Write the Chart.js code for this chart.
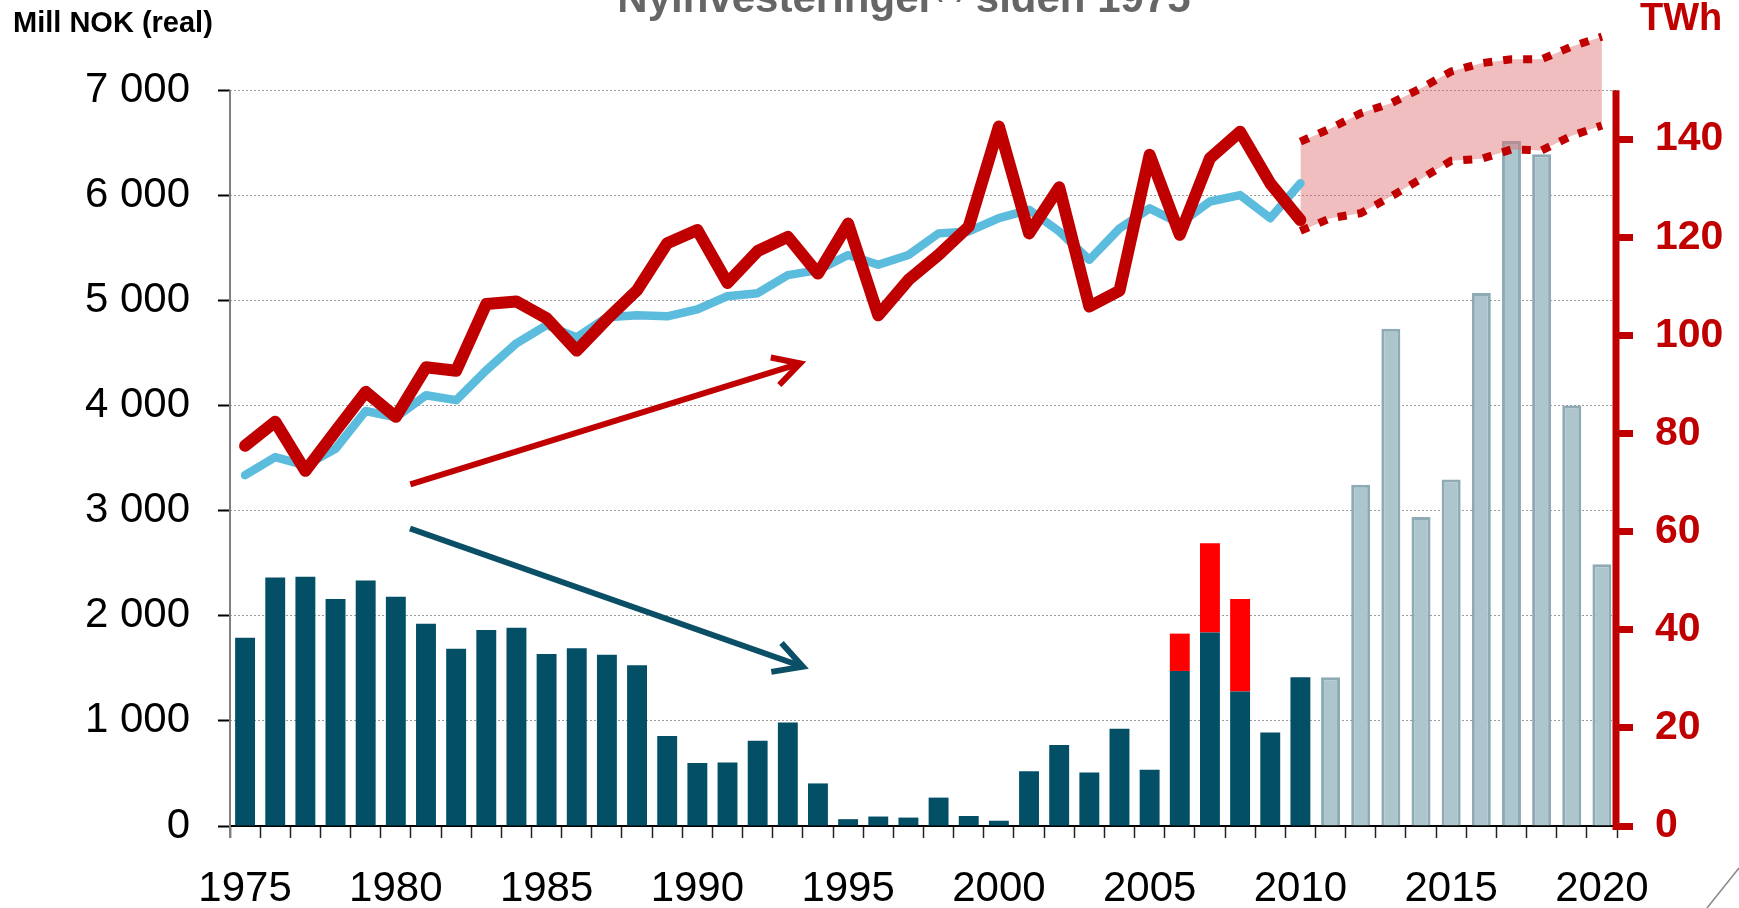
<!DOCTYPE html>
<html>
<head>
<meta charset="utf-8">
<script src="https://cdn.jsdelivr.net/npm/chart.js@4.4.1/dist/chart.umd.min.js"></script>
<style>
  html, body { margin: 0; padding: 0; background: #fff; }
  #wrap { width: 1739px; height: 908px; }
</style>
</head>
<body>
<div id="wrap"><canvas id="chart" width="1739" height="908"></canvas></div>
<script>
const years = [
  "1975", "1976", "1977", "1978", "1979", "1980", "1981", "1982", "1983", "1984",
  "1985", "1986", "1987", "1988", "1989", "1990", "1991", "1992", "1993", "1994",
  "1995", "1996", "1997", "1998", "1999", "2000", "2001", "2002", "2003", "2004",
  "2005", "2006", "2007", "2008", "2009", "2010", "2011", "2012", "2013", "2014",
  "2015", "2016", "2017", "2018", "2019", "2020",
];

// Mill NOK (real), left axis
const investBuilt = [
  1790, 2365, 2370, 2160, 2335, 2180, 1925, 1685, 1865, 1885,
  1635, 1690, 1630, 1530, 855, 600, 605, 810, 985, 405,
  65, 90, 80, 270, 95, 50, 520, 770, 510, 925,
  535, 1475, 1840, 1280, 890, 1415, null, null, null, null,
  null, null, null, null, null, null,
];
const investExtra = [
  null, null, null, null, null, null, null, null, null, null,
  null, null, null, null, null, null, null, null, null, null,
  null, null, null, null, null, null, null, null, null, null,
  null, 355, 850, 880, null, null, null, null, null, null,
  null, null, null, null, null, null,
];
const investPlanned = [
  null, null, null, null, null, null, null, null, null, null,
  null, null, null, null, null, null, null, null, null, null,
  null, null, null, null, null, null, null, null, null, null,
  null, null, null, null, null, null, 1415, 3245, 4730, 2940,
  3295, 5070, 6515, 6390, 4000, 2490,
];

// TWh, right axis
const productionTWh = [
  77.5, 82.4, 72.4, 80.5, 88.5, 83.4, 93.5, 92.8, 106.4, 106.9,
  103.5, 96.9, 103.3, 109.2, 118.8, 121.5, 110.7, 117.2, 120.1, 112.6,
  122.8, 104.1, 111.3, 116.4, 122.2, 142.6, 120.8, 130.2, 105.9, 109.1,
  136.8, 120.5, 136.1, 141.5, 131.0, 123.5, null, null, null, null,
  null, null, null, null, null, null,
];
const consumptionTWh = [
  71.5, 75.2, 73.5, 76.9, 84.6, 83.3, 87.8, 86.8, 92.9, 98.4,
  102.1, 99.6, 103.7, 104.1, 103.9, 105.3, 108.0, 108.6, 112.3, 113.3,
  116.4, 114.4, 116.4, 120.8, 121.2, 123.9, 125.6, 121.2, 115.4, 121.8,
  125.9, 122.8, 127.3, 128.6, 123.9, 131.0, null, null, null, null,
  null, null, null, null, null, null,
];
const bandHigh = [
  null, null, null, null, null, null, null, null, null, null,
  null, null, null, null, null, null, null, null, null, null,
  null, null, null, null, null, null, null, null, null, null,
  null, null, null, null, null, 139.5, 142.2, 145.3, 147.3, 150.4,
  153.8, 155.5, 156.3, 156.3, 158.9, 160.9,
];
const bandLow = [
  null, null, null, null, null, null, null, null, null, null,
  null, null, null, null, null, null, null, null, null, null,
  null, null, null, null, null, null, null, null, null, null,
  null, null, null, null, null, 121.3, 123.9, 124.9, 128.3, 131.9,
  135.6, 136.0, 137.9, 137.7, 140.7, 142.8,
];

const leftTickValues = [0, 1000, 2000, 3000, 4000, 5000, 6000, 7000];
const rightTickValues = [0, 20, 40, 60, 80, 100, 120, 140];
const leftAxisTop = 7000;
const rightAxisTop = 150;
const leftMax = 7610;
const rightMax = leftMax * rightAxisTop / leftAxisTop;

// trend arrows, in (category index, Mill NOK)
const arrows = [
  { from: [5.48, 3250], to: [18.41, 4400], color: "#c00000", width: 6, head: 30 },
  { from: [5.47, 2830], to: [18.5, 1515], color: "#0a4f66", width: 6, head: 32 },
];

const FONT = "'Liberation Sans', Arial, sans-serif";
Chart.defaults.font.family = FONT;

const fmtThousands = (v) => String(Math.round(v)).replace(/\B(?=(\d{3})+(?!\d))/g, " ");

const decor = {
  id: "decor",
  afterDatasetsDraw(chart) {
    const { ctx, scales } = chart;
    const { x, y, y2 } = scales;
    ctx.save();

    // left axis line (grey)
    ctx.strokeStyle = "#808080";
    ctx.lineWidth = 2;
    ctx.beginPath();
    ctx.moveTo(x.left, y.getPixelForValue(0) + 12);
    ctx.lineTo(x.left, y.getPixelForValue(leftAxisTop));
    ctx.stroke();

    // right axis line (red)
    ctx.strokeStyle = "#c00000";
    ctx.lineWidth = 7;
    ctx.beginPath();
    ctx.moveTo(x.right - 1, y2.getPixelForValue(0) + 4);
    ctx.lineTo(x.right - 1, y2.getPixelForValue(rightAxisTop));
    ctx.stroke();

    arrows.forEach((a) => {
      const x1 = x.getPixelForValue(a.from[0]);
      const y1 = y.getPixelForValue(a.from[1]);
      const x2 = x.getPixelForValue(a.to[0]);
      const y2p = y.getPixelForValue(a.to[1]);
      const ang = Math.atan2(y2p - y1, x2 - x1);
      ctx.strokeStyle = a.color;
      ctx.lineWidth = a.width;
      ctx.lineCap = "butt";
      ctx.lineJoin = "miter";
      ctx.beginPath();
      ctx.moveTo(x1, y1);
      ctx.lineTo(x2, y2p);
      ctx.stroke();
      ctx.beginPath();
      ctx.moveTo(x2 - a.head * Math.cos(ang - 0.5), y2p - a.head * Math.sin(ang - 0.5));
      ctx.lineTo(x2, y2p);
      ctx.lineTo(x2 - a.head * Math.cos(ang + 0.5), y2p - a.head * Math.sin(ang + 0.5));
      ctx.stroke();
    });
    ctx.restore();
  },
  afterDraw(chart) {
    const { ctx } = chart;
    ctx.save();
    ctx.textBaseline = "alphabetic";
    ctx.textAlign = "left";

    ctx.fillStyle = "#000";
    ctx.font = `bold 29px ${FONT}`;
    ctx.fillText("Mill NOK (real)", 13, 32);

    ctx.fillStyle = "#c00000";
    ctx.font = `bold 38px ${FONT}`;
    ctx.fillText("TWh", 1640, 29.5);

    // title, mostly cut off at the top
    const main1 = "Nyinvesteringer";
    const sup = "(1)";
    const main2 = " siden 1975";
    ctx.fillStyle = "#666";
    ctx.font = `bold 42px ${FONT}`;
    const w1 = ctx.measureText(main1).width;
    const w3 = ctx.measureText(main2).width;
    ctx.font = `bold 24px ${FONT}`;
    const w2 = ctx.measureText(sup).width;
    const tx = 904 - (w1 + w2 + w3) / 2;
    ctx.font = `bold 42px ${FONT}`;
    ctx.fillText(main1, tx, 12);
    ctx.font = `bold 24px ${FONT}`;
    ctx.fillText(sup, tx + w1, -3);
    ctx.font = `bold 42px ${FONT}`;
    ctx.fillText(main2, tx + w1 + w2, 12);

    // slide corner decoration
    ctx.strokeStyle = "#888";
    ctx.lineWidth = 1.5;
    ctx.beginPath();
    ctx.moveTo(1739, 868);
    ctx.lineTo(1707, 908);
    ctx.stroke();
    ctx.restore();
  },
};

new Chart(document.getElementById("chart"), {
  type: "bar",
  data: {
    labels: years,
    datasets: [
      {
        label: "Investert",
        data: investBuilt,
        backgroundColor: "#024f66",
        barPercentage: 0.66,
        categoryPercentage: 1,
        yAxisID: "y",
        order: 10,
      },
      {
        label: "Investert ekstra",
        data: investExtra,
        backgroundColor: "#ff0000",
        barPercentage: 0.66,
        categoryPercentage: 1,
        yAxisID: "y",
        order: 10,
      },
      {
        label: "Planlagt",
        data: investPlanned,
        backgroundColor: "#adc5cd",
        borderColor: "#8eaab5",
        borderWidth: 3,
        barPercentage: 0.63,
        categoryPercentage: 1,
        yAxisID: "y",
        order: 10,
      },
      {
        type: "line",
        label: "Produksjon",
        data: productionTWh,
        borderColor: "#c00000",
        borderWidth: 12,
        borderJoinStyle: "round",
        borderCapStyle: "round",
        pointRadius: 0,
        tension: 0,
        fill: false,
        yAxisID: "y2",
        order: 1,
      },
      {
        type: "line",
        label: "Forbruk",
        data: consumptionTWh,
        borderColor: "#5bbcdd",
        borderWidth: 8.5,
        borderJoinStyle: "round",
        borderCapStyle: "round",
        pointRadius: 0,
        tension: 0,
        fill: false,
        yAxisID: "y2",
        order: 2,
      },
      {
        type: "line",
        label: "Prognose høy",
        data: bandHigh,
        borderColor: "#c00000",
        borderWidth: 8,
        borderDash: [9, 11],
        borderCapStyle: "butt",
        backgroundColor: "rgba(222, 110, 110, 0.45)",
        pointRadius: 0,
        tension: 0,
        fill: "+1",
        yAxisID: "y2",
        order: 4,
      },
      {
        type: "line",
        label: "Prognose lav",
        data: bandLow,
        borderColor: "#c00000",
        borderWidth: 8,
        borderDash: [9, 11],
        borderCapStyle: "butt",
        pointRadius: 0,
        tension: 0,
        fill: false,
        yAxisID: "y2",
        order: 3,
      },
    ],
  },
  options: {
    responsive: false,
    devicePixelRatio: 1,
    animation: false,
    layout: { padding: { top: 26, left: 0, right: 0, bottom: 0 } },
    plugins: {
      legend: { display: false },
      tooltip: { enabled: false },
      title: { display: false },
    },
    scales: {
      x: {
        stacked: true,
        offset: true,
        grid: {
          display: true,
          offset: true,
          drawOnChartArea: false,
          drawTicks: true,
          tickLength: 12,
          tickColor: "#222",
          tickWidth: 1.5,
        },
        border: { display: true, color: "#000", width: 2 },
        ticks: {
          autoSkip: false,
          maxRotation: 0,
          minRotation: 0,
          padding: 26,
          color: "#000",
          font: { size: 42 },
          callback: (v) => (Number(years[v]) % 5 === 0 ? years[v] : ""),
        },
        afterFit: (s) => { s.height = 82; },
      },
      y: {
        position: "left",
        stacked: true,
        min: 0,
        max: leftMax,
        ticks: {
          padding: 28,
          color: "#000",
          font: { size: 42 },
          callback: fmtThousands,
        },
        grid: {
          color: "#9a9a9a",
          lineWidth: 1,
          drawTicks: true,
          tickLength: 12,
          tickColor: "#000",
          tickWidth: 2,
        },
        border: { display: false, dash: [2, 2] },
        afterBuildTicks: (s) => { s.ticks = leftTickValues.map((v) => ({ value: v })); },
        afterFit: (s) => { s.width = 230; s.paddingTop = 0; s.paddingBottom = 0; },
      },
      y2: {
        position: "right",
        min: 0,
        max: rightMax,
        ticks: {
          padding: 22,
          color: "#c00000",
          font: { size: 41, weight: "bold" },
        },
        grid: {
          drawOnChartArea: false,
          drawTicks: true,
          tickLength: 16,
          tickColor: "#c00000",
          tickWidth: 7,
        },
        border: { display: false },
        afterBuildTicks: (s) => { s.ticks = rightTickValues.map((v) => ({ value: v })); },
        afterFit: (s) => { s.width = 122; s.paddingTop = 0; s.paddingBottom = 0; },
      },
    },
  },
  plugins: [decor],
});
</script>
</body>
</html>
